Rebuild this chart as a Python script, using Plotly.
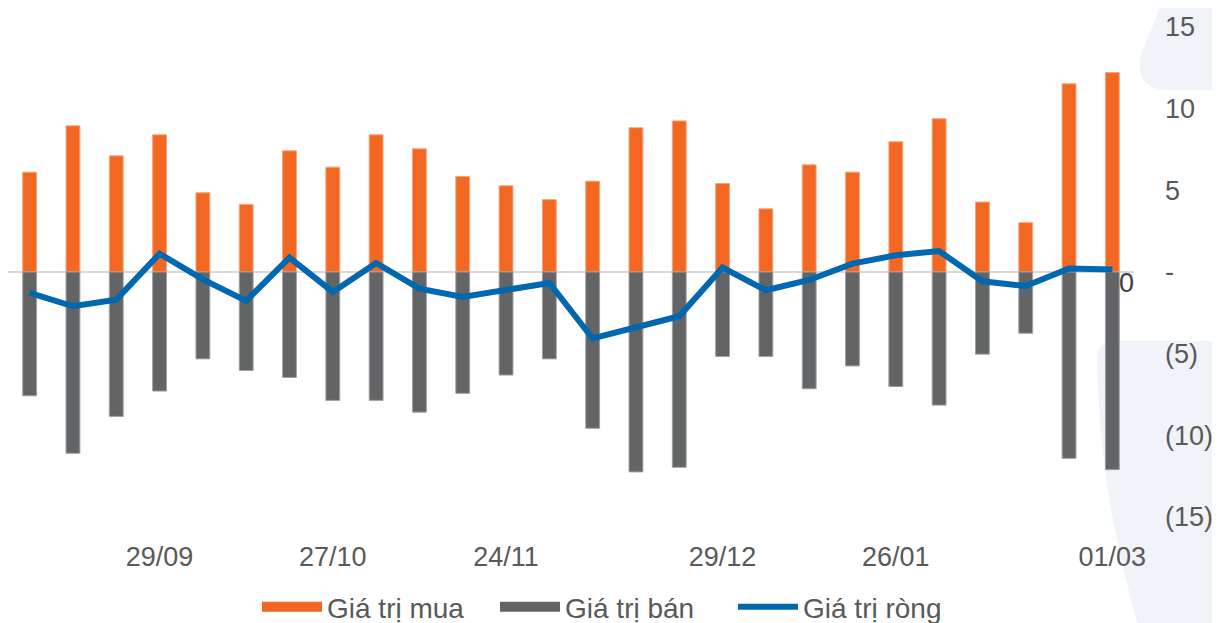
import plotly.graph_objects as go

# ---- data ----
dates = ["08/09", "15/09", "22/09", "29/09", "06/10", "13/10", "20/10", "27/10",
         "03/11", "10/11", "17/11", "24/11", "01/12", "08/12", "15/12", "22/12",
         "29/12", "05/01", "12/01", "19/01", "26/01", "02/02", "09/02", "16/02",
         "23/02", "01/03"]
buy = [6.11, 8.95, 7.11, 8.40, 4.85, 4.14, 7.42, 6.42, 8.40, 7.54, 5.85, 5.28, 4.43,
       5.56, 8.83, 9.25, 5.42, 3.87, 6.56, 6.11, 7.97, 9.38, 4.28, 3.02, 11.52, 12.21]
sell = [-7.58, -11.10, -8.84, -7.29, -5.32, -6.03, -6.46, -7.86, -7.86, -8.58, -7.43,
        -6.31, -5.32, -9.57, -12.24, -11.96, -5.17, -5.17, -7.15, -5.75, -7.01, -8.15,
        -5.03, -3.75, -11.41, -12.10]
net = [-1.28, -2.10, -1.69, 1.12, -0.45, -1.77, 0.88, -1.22, 0.55, -1.02, -1.53, -1.08,
       -0.67, -4.07, -3.36, -2.71, 0.27, -1.12, -0.49, 0.51, 1.02, 1.28, -0.57, -0.86,
       0.21, 0.15]
x_tick_vals = ["29/09", "27/10", "24/11", "29/12", "26/01", "01/03"]
y_tick_vals = [15, 10, 5, 0, -5, -10, -15]
y_tick_text = ["15", "10", "5", "-", "(5)", "(10)", "(15)"]
series_names = ["Giá trị mua", "Giá trị bán", "Giá trị ròng"]

# ---- style ----
ORANGE = "#F26722"
GRAY = "#636466"
BLUE = "#0067B1"
TXT = "#595959"
FONT = "Liberation Sans, Arial, sans-serif"
OFF = 8                      # page body margin of the html page
W, H = 1220 - OFF, 623 - OFF
ML, MR, MT, MB = 0, 86, 19, 106
PW, PH = W - ML - MR, H - MT - MB


def px_path(points_cmds):
    """convert a page-pixel path description to paper coords"""
    out = []
    for cmd, pts in points_cmds:
        coords = []
        for (px, py) in pts:
            fx, fy = px - OFF, py - OFF
            coords.append(f"{(fx - ML) / PW:.5f},{(H - MB - fy) / PH:.5f}")
        out.append(cmd + " ".join(coords))
    return " ".join(out) + " Z"


fig = go.Figure()

fig.add_trace(go.Bar(x=dates, y=buy, name=series_names[0], marker_color=ORANGE,
                     marker_line=dict(color="#F7A47C", width=1), width=0.32,
                     showlegend=False))
fig.add_trace(go.Bar(x=dates, y=sell, name=series_names[1], marker_color=GRAY,
                     marker_line=dict(color="#A0A0A0", width=1), width=0.32,
                     showlegend=False))
fig.add_trace(go.Scatter(x=dates, y=net, name=series_names[2], mode="lines",
                         line=dict(color=BLUE, width=6), showlegend=False))

# legend entries
fig.add_trace(go.Scatter(x=[None], y=[None], mode="lines", name=series_names[0],
                         line=dict(color=ORANGE, width=12)))
fig.add_trace(go.Scatter(x=[None], y=[None], mode="lines", name=series_names[1],
                         line=dict(color=GRAY, width=12)))
fig.add_trace(go.Scatter(x=[None], y=[None], mode="lines", name=series_names[2],
                         line=dict(color=BLUE, width=6)))

shapes = [
    dict(type="path", xref="paper", yref="paper", layer="below",
         fillcolor="#F0F3F8", line=dict(width=0),
         path=px_path([("M", [(1163, 0)]), ("L", [(1141, 55)]),
                       ("Q", [(1133, 90), (1170, 90)]), ("L", [(1222, 90)]),
                       ("L", [(1222, 0)])])),
    dict(type="path", xref="paper", yref="paper", layer="below",
         fillcolor="#F0F3F8", line=dict(width=0),
         path=px_path([("M", [(1114, 341)]), ("Q", [(1096, 342), (1097, 362)]),
                       ("C", [(1099, 440), (1108, 520), (1138, 625)]),
                       ("L", [(1222, 625)]), ("L", [(1222, 341)])])),
]

fig.update_layout(
    width=W, height=H,
    margin=dict(l=ML, r=MR, t=MT, b=MB, autoexpand=False),
    plot_bgcolor="white", paper_bgcolor="white",
    barmode="relative",
    font=dict(family=FONT, size=27, color=TXT),
    shapes=shapes,
    legend=dict(orientation="h", xref="container", yref="container",
                x=(257 - OFF) / W, xanchor="left",
                y=16 / H, yanchor="middle",
                font=dict(size=28, color=TXT), itemwidth=60,
                entrywidth=163, entrywidthmode="pixels",
                bgcolor="rgba(0,0,0,0)", traceorder="normal"),
    xaxis=dict(type="category", range=[-0.5, len(dates) - 0.5],
               tickmode="array", tickvals=x_tick_vals, ticktext=x_tick_vals,
               showgrid=False, showline=False, zeroline=False, ticks="",
               ticklabelstandoff=21, tickfont=dict(size=27, color=TXT)),
    yaxis=dict(side="right", range=[-15, 15], tickmode="array",
               tickvals=y_tick_vals, ticktext=y_tick_text,
               showgrid=False, showline=False, ticks="",
               zeroline=True, zerolinecolor="#D9D9D9", zerolinewidth=2,
               ticklabelstandoff=30, tickfont=dict(size=27, color=TXT)),
    annotations=[dict(text="0", xref="paper", yref="y",
                      x=(1126.5 - OFF - ML) / PW, y=-0.69, showarrow=False,
                      xanchor="center", yanchor="middle",
                      font=dict(size=27, color="#404040"))],
)

fig.write_html("out.html")
